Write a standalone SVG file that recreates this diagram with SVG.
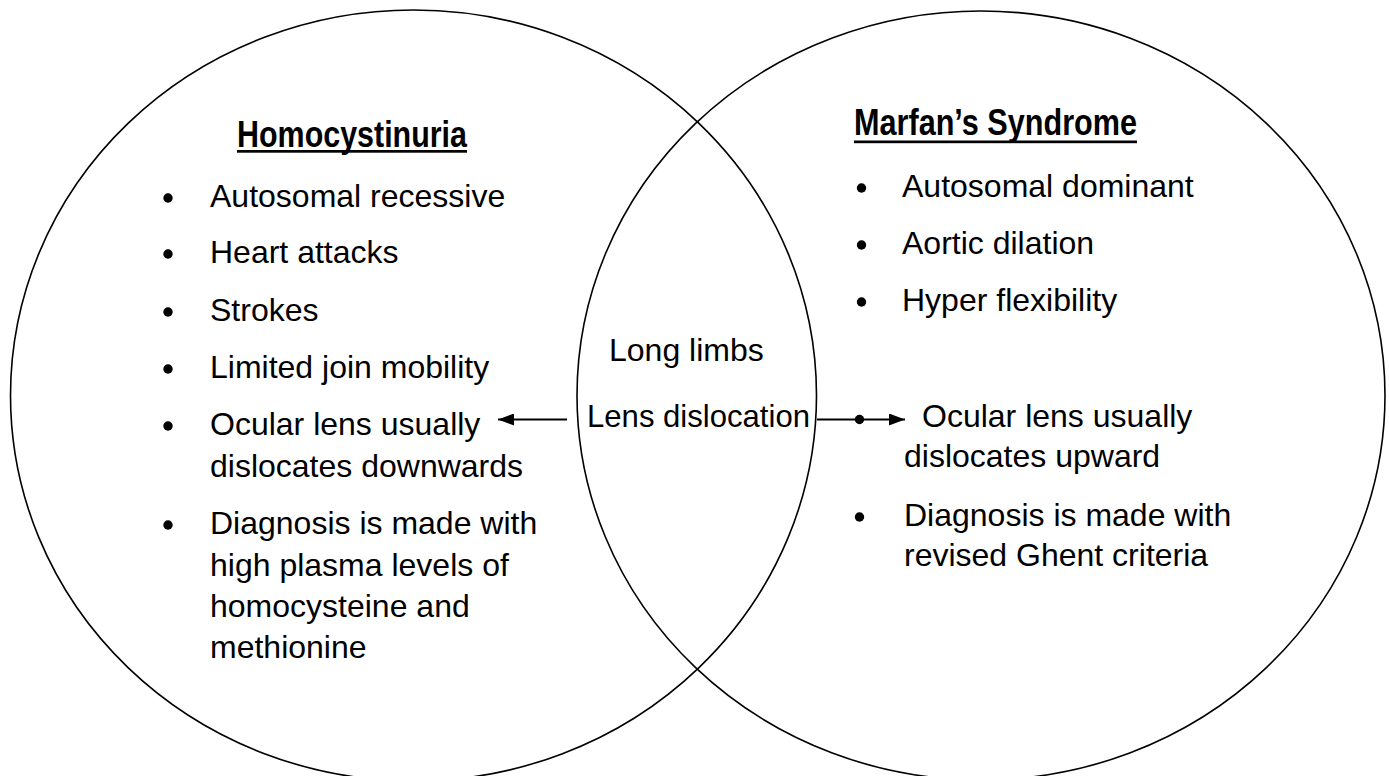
<svg xmlns="http://www.w3.org/2000/svg" width="1389" height="776" viewBox="0 0 1389 776">
<defs>
<style>
.circle{fill:none;stroke:#000;stroke-width:1.6}
.t{font-family:"Liberation Sans",Arial,sans-serif;font-size:32px;fill:#000}
.h{font-family:"Liberation Sans",Arial,sans-serif;font-size:37px;font-weight:bold;fill:#000}
.b{fill:#000}
.ul{fill:#000}
.conn{stroke:#000;stroke-width:2.2;fill:none}
</style>
<marker id="ah" viewBox="0 0 16 12" refX="16" refY="6" markerWidth="16" markerHeight="12" markerUnits="userSpaceOnUse" orient="auto">
<path d="M0,0 L16,6 L0,12 Z" fill="#000"/>
</marker>
</defs>
<rect width="1389" height="776" fill="#fff"/>
<g id="circle-homocystinuria">
<ellipse class="circle" cx="413.5" cy="395.5" rx="403" ry="385.5"/>
</g>
<g id="circle-marfan">
<ellipse class="circle" cx="981" cy="395.5" rx="404" ry="384.5"/>
</g>
<g id="homocystinuria">
<text class="h" x="237" y="147" textLength="230" lengthAdjust="spacingAndGlyphs">Homocystinuria</text>
<rect class="ul" x="237" y="150" width="230" height="2.7"/>
<circle class="b" cx="168" cy="198" r="4.7"/>
<text class="t" x="210" y="207">Autosomal recessive</text>
<circle class="b" cx="168" cy="254" r="4.7"/>
<text class="t" x="210" y="263">Heart attacks</text>
<circle class="b" cx="168" cy="312" r="4.7"/>
<text class="t" x="210" y="321">Strokes</text>
<circle class="b" cx="168" cy="369" r="4.7"/>
<text class="t" x="210" y="378">Limited join mobility</text>
<circle class="b" cx="168" cy="426" r="4.7"/>
<text class="t" x="210" y="435">Ocular lens usually</text>
<text class="t" x="210" y="476.5">dislocates downwards</text>
<circle class="b" cx="168" cy="525" r="4.7"/>
<text class="t" x="210" y="534">Diagnosis is made with</text>
<text class="t" x="210" y="575.5">high plasma levels of</text>
<text class="t" x="210" y="617">homocysteine and</text>
<text class="t" x="210" y="658">methionine</text>
</g>
<g id="shared">
<text class="t" x="609" y="361">Long limbs</text>
<text class="t" x="587" y="427" textLength="223" lengthAdjust="spacingAndGlyphs">Lens dislocation</text>
</g>
<g id="marfan">
<text class="h" x="854" y="135" textLength="283" lengthAdjust="spacingAndGlyphs">Marfan’s Syndrome</text>
<rect class="ul" x="854" y="140.5" width="283" height="2.7"/>
<circle class="b" cx="861.5" cy="188" r="4.7"/>
<text class="t" x="902" y="197">Autosomal dominant</text>
<circle class="b" cx="861.5" cy="245" r="4.7"/>
<text class="t" x="902" y="254">Aortic dilation</text>
<circle class="b" cx="861.5" cy="302" r="4.7"/>
<text class="t" x="902" y="311">Hyper flexibility</text>
<circle class="b" cx="859.5" cy="419.5" r="4.7"/>
<text class="t" x="922" y="427">Ocular lens usually</text>
<text class="t" x="904" y="467">dislocates upward</text>
<circle class="b" cx="859.5" cy="517" r="4.7"/>
<text class="t" x="904" y="526">Diagnosis is made with</text>
<text class="t" x="904" y="565.5">revised Ghent criteria</text>
</g>
<g id="connectors">
<line class="conn" x1="567" y1="419.5" x2="498" y2="419.5" marker-end="url(#ah)"/>
<line class="conn" x1="817" y1="419.5" x2="905" y2="419.5" marker-end="url(#ah)"/>
</g>
</svg>
